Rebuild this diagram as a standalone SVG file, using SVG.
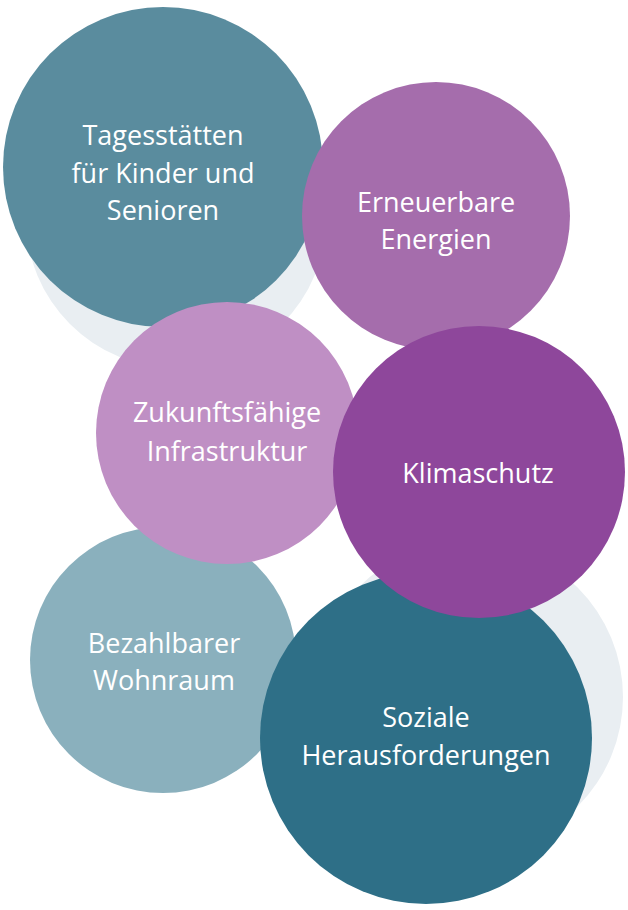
<svg xmlns="http://www.w3.org/2000/svg" width="628" height="910" viewBox="0 0 628 910">
<style>
.lbl{font-family:"Open Sans","Noto Sans","DejaVu Sans",sans-serif;font-size:27px;fill:#ffffff;text-anchor:middle}
.shadow{fill:#e9eef2}
</style>
<rect width="628" height="910" fill="#ffffff"/>
<g id="shadows">
<circle class="shadow" cx="176" cy="218" r="150"/>
<circle class="shadow" cx="468" cy="697" r="155"/>
</g>
<g id="tagesstaetten">
<circle cx="163" cy="167" r="160" fill="#5a8c9e"/>
<text class="lbl" x="163" y="145">Tagesstätten</text>
<text class="lbl" x="163" y="183">für Kinder und</text>
<text class="lbl" x="163" y="220">Senioren</text>
</g>
<g id="erneuerbare">
<circle cx="436" cy="216" r="134" fill="#a56dac"/>
<text class="lbl" x="436" y="212">Erneuerbare</text>
<text class="lbl" x="436" y="249">Energien</text>
</g>
<g id="bezahlbarer">
<circle cx="163" cy="660" r="133" fill="#8ab0bd"/>
<text class="lbl" x="164" y="653">Bezahlbarer</text>
<text class="lbl" x="164" y="690">Wohnraum</text>
</g>
<g id="soziale">
<circle cx="426" cy="738" r="166" fill="#2e6f87"/>
<text class="lbl" x="426" y="727">Soziale</text>
<text class="lbl" x="426" y="765">Herausforderungen</text>
</g>
<g id="zukunft">
<circle cx="227" cy="433" r="131" fill="#bf8fc4"/>
<text class="lbl" x="227" y="422">Zukunftsfähige</text>
<text class="lbl" x="227" y="461">Infrastruktur</text>
</g>
<g id="klimaschutz">
<circle cx="479" cy="472" r="146" fill="#8e479b"/>
<text class="lbl" x="478" y="483">Klimaschutz</text>
</g>
<g id="connectors"></g>
</svg>
